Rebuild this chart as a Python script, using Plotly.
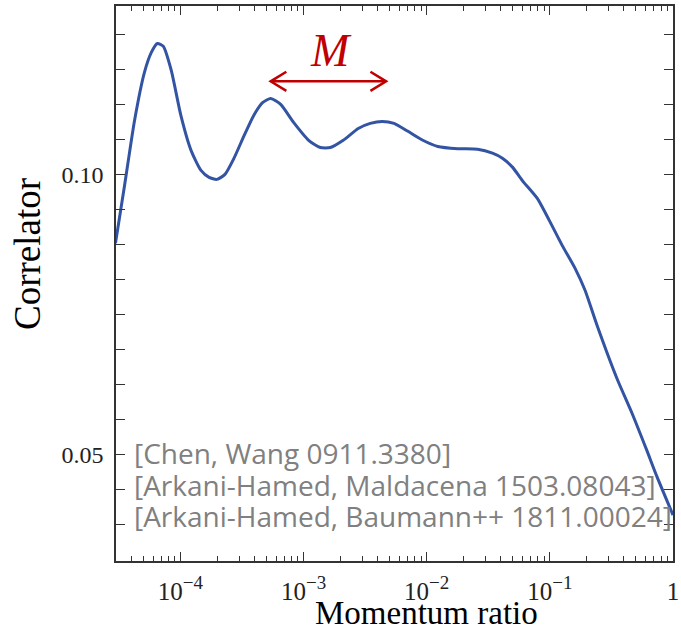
import numpy as np
import plotly.graph_objects as go

# ---- data ----
momentum_ratio = [2.97e-5, 3.52e-5, 4.24e-5, 5.1e-5, 5.81e-5, 6.5e-5, 7.26e-5, 8.43e-5,
                  1.01e-4, 1.22e-4, 1.47e-4, 1.71e-4, 1.98e-4, 2.30e-4, 2.72e-4, 3.27e-4,
                  3.94e-4, 4.67e-4, 5.41e-4, 6.52e-4, 8.3e-4, 1.1e-3, 1.37e-3, 1.65e-3,
                  2.1e-3, 2.78e-3, 3.48e-3, 4.35e-3, 5.43e-3, 7.04e-3, 9.3e-3, 1.23e-2,
                  1.79e-2, 2.59e-2, 3.42e-2, 4.12e-2, 4.97e-2, 5.98e-2, 7.91e-2, 9.89e-2,
                  0.1259, 0.1603, 0.1931, 0.2415, 0.350, 0.472, 0.612, 0.738, 1.0]
correlator = [0.0877, 0.0980, 0.1096, 0.1182, 0.1218, 0.1234, 0.1229, 0.1186,
              0.1105, 0.1043, 0.10071, 0.09946, 0.09911, 0.1000, 0.10286, 0.10679,
              0.11054, 0.11286, 0.11357, 0.1125, 0.1093, 0.1061, 0.1048, 0.1048,
              0.1061, 0.1082, 0.10911, 0.10946, 0.10911, 0.1077, 0.1061, 0.1050,
              0.1046, 0.1045, 0.1038, 0.1029, 0.1013, 0.0989, 0.09571, 0.09179,
              0.08732, 0.08321, 0.07929, 0.07304, 0.06357, 0.05696, 0.05071, 0.04607, 0.03911]

x_tick_vals = [1e-4, 1e-3, 1e-2, 1e-1, 1]
x_tick_exponents = ["\u22124", "\u22123", "\u22122", "\u22121", None]
x_tick_text = [("10<sup><span style='font-size:19px'>%s</span></sup>" % e) if e else "1"
               for e in x_tick_exponents]
x_minor_vals = [m * 10.0 ** e for e in range(-5, 0) for m in range(2, 10)]
y_tick_vals = [0.05, 0.10]
y_tick_text = ["0.05", "0.10"]
y_minor_step = 0.00625
y_minor_vals = [0.0375 + k * y_minor_step for k in range(15)]

references = ["[Chen, Wang 0911.3380]",
              "[Arkani-Hamed, Maldacena 1503.08043]",
              "[Arkani-Hamed, Baumann++ 1811.00024]"]

# arrow annotation "M" (data-space endpoints)
arrow_x = [5.41e-4, 4.68e-3]
arrow_y = 0.11664
head_factor = 1.34
head_dy = 0.0017

x_range = [np.log10(3e-5), 0.0]
y_range = [0.0309, 0.1301]

fig = go.Figure()
fig.add_trace(go.Scatter(x=momentum_ratio, y=correlator, mode="lines",
                         line=dict(color="#3354a3", width=3, shape="spline", smoothing=0.6),
                         showlegend=False, hoverinfo="skip"))

ax0, ax1 = arrow_x
arr_x = [ax0, ax1, None,
         ax0 * head_factor, ax0, ax0 * head_factor, None,
         ax1 / head_factor, ax1, ax1 / head_factor]
arr_y = [arrow_y, arrow_y, None,
         arrow_y + head_dy, arrow_y, arrow_y - head_dy, None,
         arrow_y + head_dy, arrow_y, arrow_y - head_dy]
fig.add_trace(go.Scatter(x=arr_x, y=arr_y, mode="lines",
                         line=dict(color="#c00000", width=2.5), showlegend=False,
                         hoverinfo="skip"))

fig.add_annotation(x=np.log10(np.sqrt(ax0 * ax1)), y=arrow_y, xref="x", yref="y",
                   text="<i>M</i>", showarrow=False, yanchor="bottom", yshift=3, xshift=3,
                   font=dict(family="Liberation Serif", size=46, color="#c00000"))

ref_y = [0.1946, 0.1366, 0.0811]
for txt, yy in zip(references, ref_y):
    fig.add_annotation(x=0.0296, y=yy, xref="paper", yref="paper", text=txt,
                       showarrow=False, xanchor="left", yanchor="middle",
                       font=dict(family="Open Sans", size=28, color="#808080"))

axis_common = dict(showline=True, linecolor="#333333", linewidth=1.6, mirror="ticks",
                   ticks="inside", tickcolor="#333333", tickwidth=1.3, showgrid=False,
                   zeroline=False, automargin=False)

fig.update_xaxes(type="log", range=x_range, tickvals=x_tick_vals, ticktext=x_tick_text,
                 ticklen=9, ticklabelstandoff=7,
                 tickfont=dict(family="Liberation Serif", size=25, color="#222222"),
                 minor=dict(tickmode="array", tickvals=x_minor_vals, ticks="inside",
                            ticklen=5, tickcolor="#333333", tickwidth=1.1, showgrid=False),
                 **axis_common)
fig.update_yaxes(range=y_range, tickvals=y_tick_vals, ticktext=y_tick_text, ticklen=9,
                 ticklabelstandoff=6,
                 tickfont=dict(family="Liberation Serif", size=24, color="#222222"),
                 minor=dict(tickmode="array", tickvals=y_minor_vals, ticks="inside",
                            ticklen=9, tickcolor="#333333", tickwidth=1.3, showgrid=False),
                 **axis_common)

fig.add_annotation(x=0.557, y=-0.058, xref="paper", yref="paper", text="Momentum ratio",
                   showarrow=False, xanchor="center", yanchor="top",
                   font=dict(family="Liberation Serif", size=33, color="black"))
fig.add_annotation(x=-0.16, y=0.553, xref="paper", yref="paper", text="Correlator",
                   showarrow=False, textangle=-90, xanchor="center", yanchor="middle",
                   font=dict(family="Liberation Serif", size=37, color="black"))

fig.update_layout(width=681, height=630, margin=dict(l=116, r=8, t=6, b=69),
                  plot_bgcolor="white", paper_bgcolor="white")

fig.write_html("out.html", config={"displayModeBar": False},
               post_script="document.body.style.margin='0';document.body.style.overflow='hidden';")
